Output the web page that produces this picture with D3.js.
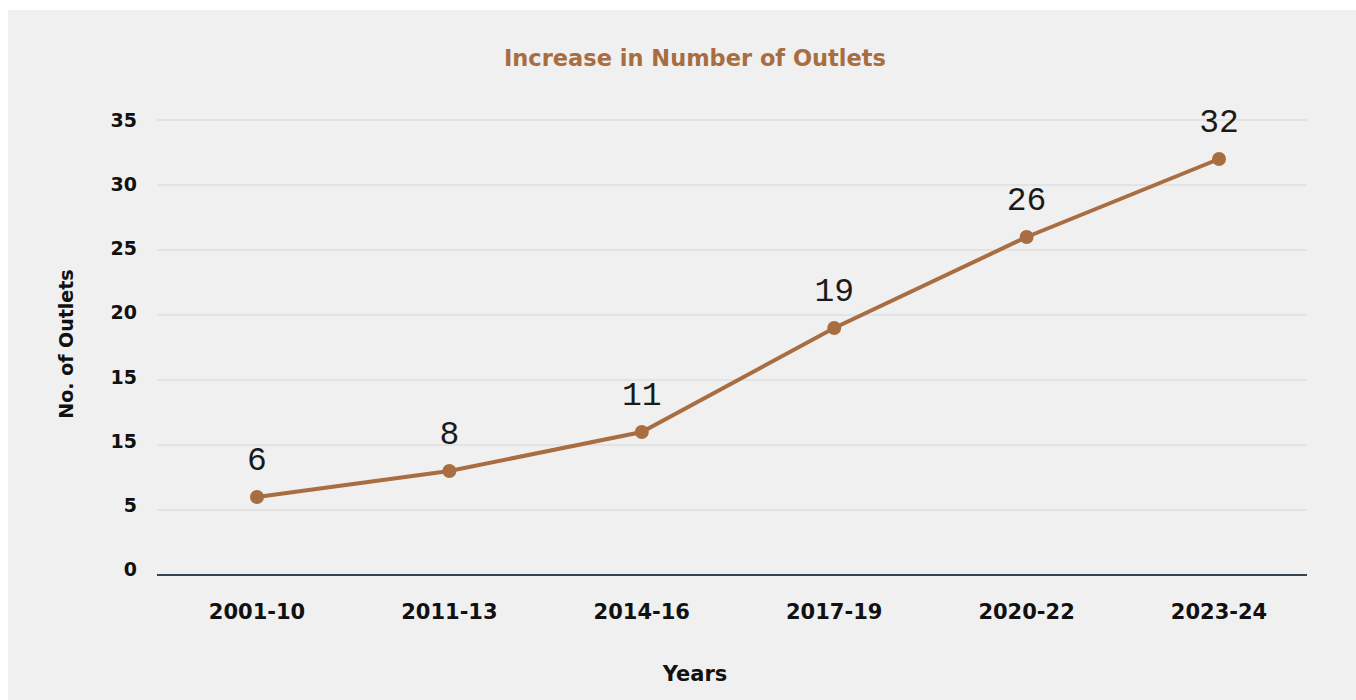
<!DOCTYPE html>
<html>
<head>
<meta charset="utf-8">
<script src="https://cdn.jsdelivr.net/npm/d3@7"></script>
<style>
  body{margin:0;background:#fff;}
</style>
</head>
<body>
<div id="container"></div>
<script>
let w=1356;
let h=700;

// data
let years = ["2001-10","2011-13","2014-16","2017-19","2020-22","2023-24"];
let outlets = [6,8,11,19,26,32];
let yTicks = [0,5,10,15,20,25,30,35];
let yTickLabels = ["0","5","15","15","20","25","30","35"]; // as printed on the original

let brown = "#a86d40";
let sans = "DejaVu Sans, Verdana, sans-serif";

let viz = d3.select("#container")
  .append("svg")
    .attr("width",w)
    .attr("height",h)
;

// grey panel
viz.append("rect")
  .attr("x",8)
  .attr("y",10)
  .attr("width",w-8)
  .attr("height",h-10)
  .attr("fill","#f0f0f0")
;

let xScale = d3.scalePoint().domain(years).range([257,1219]);
let yScale = d3.scaleLinear().domain([0,35]).range([575,120]);

// gridlines
viz.append("g")
  .selectAll("line").data(yTicks.filter(d=>d>0)).enter()
  .append("line")
    .attr("x1",157)
    .attr("x2",1307)
    .attr("y1",d=>yScale(d))
    .attr("y2",d=>yScale(d))
    .attr("stroke","#d6d6d6")
    .attr("stroke-width",1.2)
;

// baseline
viz.append("line")
  .attr("x1",157)
  .attr("x2",1307)
  .attr("y1",yScale(0))
  .attr("y2",yScale(0))
  .attr("stroke","#37434d")
  .attr("stroke-width",2)
;

// y tick labels
viz.append("g")
  .selectAll("text").data(yTicks).enter()
  .append("text")
    .attr("x",137)
    .attr("y",(d,i)=>yScale(d) - 6 + i*0.9)
    .attr("dy","0.36em")
    .attr("text-anchor","end")
    .style("font-family",sans)
    .style("font-weight","bold")
    .style("font-size","19px")
    .attr("fill","#111")
    .text((d,i)=>yTickLabels[i])
;

// x tick labels
viz.append("g")
  .selectAll("text").data(years).enter()
  .append("text")
    .attr("x",d=>xScale(d))
    .attr("y",611)
    .attr("dy","0.36em")
    .attr("text-anchor","middle")
    .style("font-family",sans)
    .style("font-weight","bold")
    .style("font-size","21px")
    .attr("fill","#111")
    .text(d=>d)
;

// line
let line = d3.line()
  .x((d,i)=>xScale(years[i]))
  .y(d=>yScale(d));

viz.append("path")
  .datum(outlets)
  .attr("d",line)
  .attr("fill","none")
  .attr("stroke",brown)
  .attr("stroke-width",4)
;

viz.append("g")
  .selectAll("circle").data(outlets).enter()
  .append("circle")
    .attr("cx",(d,i)=>xScale(years[i]))
    .attr("cy",d=>yScale(d))
    .attr("r",7)
    .attr("fill",brown)
;

// value labels
viz.append("g")
  .selectAll("text").data(outlets).enter()
  .append("text")
    .attr("x",(d,i)=>xScale(years[i]))
    .attr("y",d=>yScale(d)-27)
    .attr("text-anchor","middle")
    .style("font-family","Liberation Mono, monospace")
    .style("font-weight","300")
    .style("font-size","33px")
    .attr("fill","#1a1a1a")
    .text(d=>d)
;

// title
viz.append("text")
  .attr("x",695)
  .attr("y",66)
  .attr("text-anchor","middle")
  .style("font-family",sans)
  .style("font-weight","bold")
  .style("font-size","22.5px")
  .attr("fill",brown)
  .text("Increase in Number of Outlets")
;

// axis titles
viz.append("text")
  .attr("x",695)
  .attr("y",681)
  .attr("text-anchor","middle")
  .style("font-family",sans)
  .style("font-weight","bold")
  .style("font-size","21px")
  .attr("fill","#111")
  .text("Years")
;

viz.append("text")
  .attr("transform","translate(73,344) rotate(-90)")
  .attr("text-anchor","middle")
  .style("font-family",sans)
  .style("font-weight","bold")
  .style("font-size","19px")
  .attr("fill","#111")
  .text("No. of Outlets")
;
</script>
</body>
</html>
